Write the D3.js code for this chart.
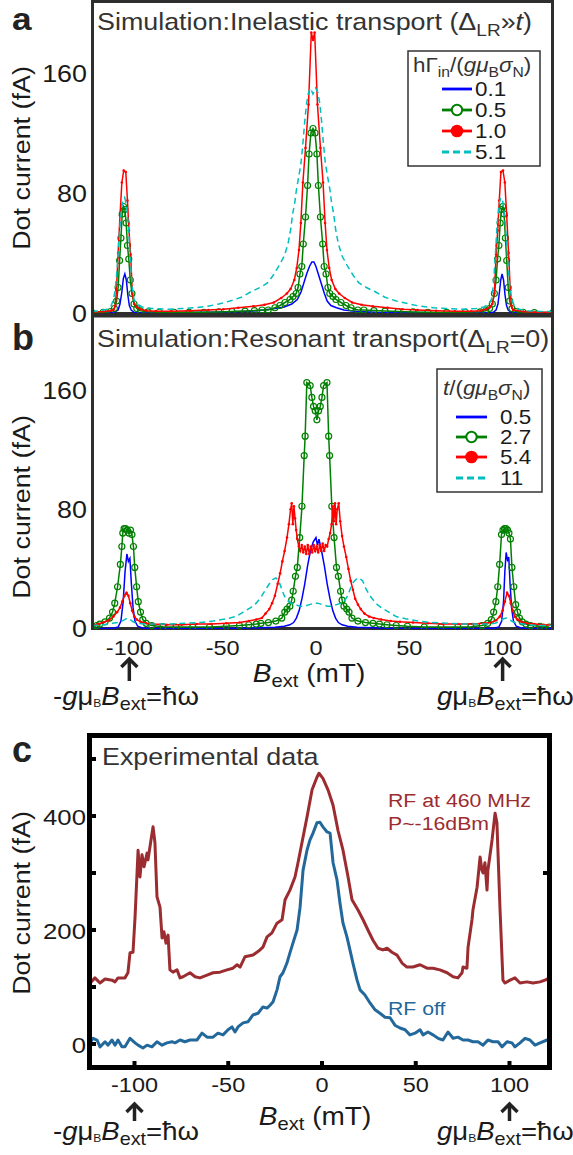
<!DOCTYPE html>
<html>
<head>
<meta charset="utf-8">
<script src="https://cdn.jsdelivr.net/npm/d3@7"></script>
<style>
  body { margin: 0; background: #fff; }
  svg { display: block; }
</style>
</head>
<body>
<svg id="fig" width="573" height="1155"></svg>
<script>
// ---- data: [B_ext (mT), current (fA)] ----
// panel a, inelastic transport
const aBlue = [[-120,0],[-112,0.2],[-108,0.5],[-106,2],[-105,6],[-104,14],[-103.2,23],[-102.4,26],[-101.6,22],[-100.8,12],[-100,5],[-99,2],[-97.5,0.5],[-94,0.2],[-85,0.2],[-70,0.3],[-55,0.5],[-45,0.8],[-35,1.2],[-28,2],[-22,3],[-17,4],[-13,6],[-10,9],[-8,14],[-6.5,20],[-5,26],[-3.5,31],[-2.2,34],[-1.1,34],[0,31],[1.5,25],[3,19],[4.5,13],[6,8],[8,5],[11,3.5],[15,2],[22,1],[32,0.5],[45,0.3],[60,0.2],[80,0.2],[92,0.3],[95,0.5],[96.5,2],[97.5,6],[98.3,14],[99,22],[99.7,26],[100.5,22],[101.3,12],[102.1,5],[103,2],[104.5,0.5],[108,0.2],[127,0]];
const aGreen = [[-120,0.3],[-114,0.5],[-110,1],[-108,3],[-106.8,8],[-106,17],[-105.2,35],[-104.5,50],[-103.8,66],[-103.1,71],[-102.4,69],[-101.7,60],[-101,45],[-100.3,36],[-99.5,22],[-98.6,13],[-97.5,6],[-96,3],[-94,1.5],[-90,0.8],[-84,0.5],[-76,0.5],[-68,0.5],[-60,0.5],[-52,0.7],[-45,1],[-38,1.3],[-33,1.6],[-28.9,2],[-25.6,2],[-22,3.5],[-19.3,5],[-16.6,7],[-13.9,9],[-12.3,11],[-10.6,13],[-9.6,17],[-8.6,26],[-7.6,31],[-6.8,46],[-5.6,64],[-4.5,85],[-3.7,106],[-2.7,120],[-1.6,123],[-0.5,120],[0.5,106],[1.3,85],[2.4,64],[3.6,46],[4.4,31],[5.4,26],[6.4,17],[7.4,13],[9.1,11],[10.7,9],[13.4,7],[16.1,5],[18.8,3.5],[22.4,2],[25.7,2],[31,1.6],[37,1.3],[44,1],[52,0.7],[60,0.5],[70,0.4],[80,0.5],[88,0.8],[91,1.5],[93,3],[94.5,6],[95.6,13],[96.5,22],[97.3,36],[98,45],[98.7,60],[99.4,69],[100.1,71],[100.8,66],[101.5,50],[102.2,35],[103,17],[103.8,8],[105,3],[107,1],[111,0.5],[117,0.3],[127,0.3]];
const aRed = [[-120,0.5],[-114,1],[-110,1.5],[-108.5,2],[-107.5,5],[-106.9,15],[-106,40],[-105,65],[-104,87],[-103,95],[-101.9,94],[-101,75],[-100.2,55],[-99.3,39],[-98.4,13],[-97.3,6],[-96,4],[-94,2.5],[-91,1.5],[-86,1.2],[-77.6,1.2],[-67.6,1.5],[-57.6,2],[-49.6,2.5],[-41.6,3.5],[-33.6,4.5],[-27.6,5.5],[-22.6,7],[-18.6,10],[-15.6,13],[-13.6,16],[-11.6,22],[-10.3,30],[-9.1,42],[-8.1,60],[-7,87],[-5.6,110],[-4,139],[-2.5,187],[-1.6,182],[-0.7,187],[0.8,139],[2.4,110],[3.8,87],[4.9,60],[5.9,42],[7.1,30],[8.4,22],[10.4,16],[12.4,13],[15.4,10],[19.4,7],[24.4,5.5],[30.4,4.5],[38.4,3.5],[46.4,2.5],[54.4,2],[64.4,1.5],[74.4,1.2],[83.2,1.2],[88.2,1.5],[91.2,2.5],[93.2,4],[94.5,6],[95.6,13],[96.5,39],[97.4,55],[98.2,75],[99.1,94],[100.2,95],[101.2,87],[102.2,65],[103.2,40],[104.1,15],[104.7,5],[105.7,2],[111.2,1],[117.2,0.5],[127,0.5]];
const aCyan = [[-120,1],[-116,1.5],[-112,2.5],[-110,4],[-108.5,9],[-107.5,16],[-106.5,30],[-105.5,50],[-104.5,66],[-103.5,75],[-102.5,77],[-101.5,72],[-100.5,58],[-99.5,36],[-98.5,18],[-97.5,9],[-96,6],[-93,4],[-88,3],[-80,2.5],[-72,3],[-65,3.5],[-58,4.5],[-52,6],[-46,8],[-40,10.5],[-35,14],[-30,17],[-26,20],[-23,25],[-20,31],[-17,38],[-15,46],[-13.5,56],[-12.5,66],[-11.3,74],[-10.5,82],[-9.5,89],[-8,100],[-7,113],[-6,128],[-5,140],[-4,147],[-3,150],[-1.6,146],[-0.2,150],[1,147],[2,140],[3,128],[4,113],[5,100],[6.5,89],[7.5,82],[8.3,74],[9.5,66],[10.5,56],[12,46],[14,38],[17,31],[20,25],[23,20],[27,17],[32,14],[37,10.5],[43,8],[50,6],[56,4.5],[63,3.5],[70,3],[78,2.5],[86,3],[90,4],[92.5,6],[94,9],[95,18],[96,36],[97,58],[98,72],[99,77],[100,75],[101,66],[102,50],[103,30],[104,16],[105,9],[106.5,4],[109,2.5],[113,1.5],[120,1],[127,1]];

// panel b, resonant transport
const bBlue = [[-120,0],[-112,0],[-108,0.3],[-106,1],[-104.5,5],[-103.3,18],[-102.3,38],[-101.3,50],[-100.5,45],[-99.7,47],[-98.9,30],[-98,14],[-97,5],[-95.5,1.5],[-93,0.3],[-88,0],[-60,0],[-40,0.2],[-30,0.5],[-22,0.8],[-17,1.5],[-14,2.5],[-12,4],[-10.5,7],[-9,12],[-7.5,20],[-6,30],[-4.5,42],[-3,52],[-1.5,58],[0,61],[0.8,56],[1.6,60],[3,52],[4.5,42],[6,30],[7.5,20],[9,12],[10.5,7],[12,4],[14,2.5],[17,1.5],[22,0.8],[30,0.5],[40,0.2],[60,0],[92,0],[96,0.3],[98,1],[99.5,5],[100.5,18],[101.2,38],[101.9,51],[102.6,46],[103.3,48],[104,30],[104.8,14],[105.8,5],[107.3,1.5],[110,0.3],[115,0],[127,0]];
const bGreen = [[-120,1],[-117.4,2],[-115.8,3],[-113,4.5],[-110.6,7],[-109,11],[-107.8,17],[-106.3,28],[-104.8,43],[-104,55],[-103.5,64],[-102.8,67],[-102,67],[-101.2,66],[-100.2,64],[-99.4,66],[-98.6,63],[-97.8,55],[-97.1,41],[-96.1,28],[-95.2,18],[-94,11],[-92.8,6],[-91,3.5],[-88,2],[-82,1.2],[-75,1],[-66,1],[-57,1],[-48,1.5],[-41,2],[-36,2.5],[-32,3],[-29.5,3.5],[-25.5,4],[-21.5,5],[-18.3,7],[-16.7,11],[-15.5,13],[-14,15],[-13,19],[-12.2,25],[-11,35],[-10,41],[-8.7,61],[-7.5,82],[-6.3,116],[-5.8,129],[-4.9,165],[-3.1,163],[-2.2,155],[-1.3,149],[-0.4,146],[0.5,140],[1.4,146],[2.3,149],[3.2,155],[4.1,163],[5.9,165],[6.8,129],[7.3,116],[8.5,82],[9.7,61],[11,41],[12,35],[13.2,25],[14,19],[15,15],[16.5,13],[17.7,11],[19.3,7],[22.5,5],[26.5,4],[30.5,3.5],[34,3],[38,2.5],[43,2],[49,1.5],[58,1],[67,1],[76,1],[83,1.2],[89,2],[92,3.5],[94,6],[95.2,11],[96.4,18],[97.4,28],[98.4,43],[99.4,63],[100.2,66],[101,67],[101.8,67],[102.6,66],[103.4,64],[104.2,60],[105,41],[106,28],[107,16],[108,11],[109,7],[110.5,4.5],[112.5,3],[115,2],[120,1.5],[125,1]];
const bRed = [[-120,2],[-117,3],[-114,4],[-111,5.5],[-108.5,8],[-106.5,11],[-105,14],[-103.8,18],[-102.6,22],[-101.5,24],[-100.5,22],[-99.5,17],[-98.5,12],[-97.3,8],[-96,6],[-94,4.5],[-91,3.5],[-87,3],[-80,2.5],[-72,2.5],[-64,3],[-56,3],[-48,3.5],[-41,4],[-36,5],[-32,6],[-29,7],[-27,10],[-25,13],[-23.5,17],[-22,22],[-20.5,30],[-19.2,37],[-18,45],[-16.8,52],[-15.5,61],[-14.5,70],[-13.6,80],[-13,84],[-12.4,70],[-11.8,82],[-11.2,74],[-10.6,66],[-10,60],[-9.2,55],[-8.4,52],[-7.6,56],[-6.8,51],[-6,55],[-5.2,50],[-4.4,56],[-3.6,50],[-2.8,55],[-2,51],[-1.2,56],[-0.4,52],[0.4,55],[1.2,51],[2,56],[2.8,52],[3.6,57],[4.4,52],[5.2,56],[6,55],[6.8,60],[7.6,64],[8.4,70],[9,82],[9.6,72],[10.2,84],[10.8,70],[11.4,80],[12.2,84],[13,72],[14,62],[15,55],[16.2,48],[17.4,40],[18.6,32],[19.8,26],[21,20],[22.5,16],[24,13],[26,10],[28.5,8],[31,7],[35,6],[40,5],[45,4.5],[52,4],[60,3.5],[68,3],[76,3],[84,3],[90,3.5],[94,4],[96.5,5.5],[98.5,8],[100,12],[101.2,18],[102.4,24],[103.4,22],[104.4,17],[105.4,12],[106.5,8],[108,6],[110,4.5],[113,3.5],[117,3],[122,2.5],[127,2]];
const bCyan = [[-120,2],[-114,2.5],[-109,3.5],[-106,4],[-104,5],[-102.5,6],[-101,7],[-99.5,6],[-98,4.5],[-96,3.5],[-92,3],[-85,3],[-78,3],[-70,3.5],[-62,4],[-55,5],[-48,6.5],[-43,8],[-39,11],[-35,14],[-32,17],[-29.5,21],[-27,26],[-25,30],[-23,33],[-21.5,34],[-20,32],[-18.5,27],[-17,22],[-15.5,19],[-13.5,17],[-11,16],[-8.5,15],[-6,15],[-3.5,16],[-1,17],[1,17],[3.5,16],[6,15],[8.5,15],[11,16],[13.5,17],[15.5,19],[17,22],[18.5,27],[20,31],[21.5,33],[23,34],[25,32],[27,26],[29.5,21],[32,17],[35,14],[39,11],[43,8],[48,6.5],[55,5],[62,4],[70,3.5],[78,3],[85,3],[92,3],[96,3.5],[98.5,5],[100.5,6.5],[102,7],[103.5,6],[105.5,4.5],[108,3.5],[113,2.5],[120,2],[127,2]];

// panel c, experimental data
const cRfOn = [[-123.7,107],[-121.1,116],[-118.4,107],[-115.7,114],[-112,112],[-110.4,109],[-108.8,116],[-105.1,116],[-103.5,125],[-102.4,160],[-100.8,161],[-99.7,223],[-98.1,340],[-97.1,293],[-96,332],[-94.9,311],[-93.3,335],[-92.8,323],[-91.2,358],[-90.1,381],[-89.1,353],[-88,258],[-86.4,240],[-85.3,186],[-84.3,197],[-83.2,177],[-82.1,191],[-81.1,130],[-79.5,126],[-77.3,130],[-75.7,116],[-74.1,118],[-70.4,125],[-67.7,118],[-65.1,116],[-61.3,121],[-58.1,125],[-54.4,126],[-50.7,130],[-47.5,133],[-45.3,139],[-43.7,135],[-41.1,153],[-36.8,156],[-33.1,165],[-31.5,170],[-29.3,188],[-26.7,195],[-24,212],[-21.3,218],[-19.7,253],[-17.1,270],[-14.4,293],[-12.8,318],[-10.7,353],[-8,398],[-5.3,446],[-2.7,468],[-1.6,475],[0.5,466],[3.2,446],[5.9,419],[8.5,375],[11.2,340],[13.9,293],[16,253],[19.2,235],[21.9,218],[24.5,200],[27.2,182],[29.9,168],[32.5,165],[34.7,168],[37.3,161],[40,156],[42.7,142],[45.3,135],[48.5,135],[52.3,139],[56,133],[59.2,133],[62.9,130],[66.7,125],[69.9,118],[72.5,116],[74.7,125],[75.2,135],[77.3,133],[77.9,170],[80,218],[80.5,235],[82.7,275],[84.3,328],[85.3,305],[85.9,300],[86.9,318],[88,270],[88.5,305],[90.7,358],[92.3,405],[93.3,388],[94.9,240],[96.5,112],[97.6,107],[100.3,112],[102.9,116],[105.6,107],[109.3,109],[112.5,107],[116.3,109],[118.9,112],[121.6,116]];
const cRfOff = [[-123.7,2],[-122.1,10],[-120,7],[-118.4,-5],[-115.7,4],[-114.1,-2],[-112,7],[-110.4,-2],[-108.8,7],[-106.7,-5],[-105.1,-5],[-102.4,10],[-99.7,2],[-98.1,-2],[-95.5,-7],[-93.3,-2],[-90.7,-5],[-88,4],[-85.3,-2],[-82.7,2],[-80,4],[-78.4,2],[-75.7,7],[-73.1,4],[-70.4,7],[-66.7,7],[-64,19],[-61.3,12],[-58.1,12],[-55.5,19],[-52.8,16],[-50.1,25],[-48,30],[-46.4,21],[-44.8,30],[-42.1,37],[-39.5,39],[-36.8,51],[-34.1,54],[-31.5,65],[-29.3,63],[-27.7,68],[-26.1,74],[-24,95],[-22.4,118],[-20.8,125],[-18.7,142],[-17.1,160],[-15.5,177],[-13.3,200],[-11.7,240],[-10.1,305],[-8,340],[-6.4,358],[-4.8,370],[-2.7,388],[-1.1,389],[0.5,381],[2.7,372],[4.3,370],[5.9,318],[8,288],[9.6,247],[11.2,212],[13.3,188],[14.9,165],[16.5,142],[18.7,112],[20.3,95],[22.9,86],[25.6,72],[28.3,60],[30.9,54],[33.6,47],[36.3,46],[38.9,33],[41.6,28],[44.3,25],[46.9,16],[49.6,19],[52.3,25],[53.9,16],[56.5,21],[59.2,16],[61.9,10],[64.5,7],[67.2,21],[69.9,10],[72.5,12],[75.2,7],[77.9,7],[80.5,4],[83.2,4],[85.9,-2],[88.5,7],[91.2,4],[93.9,4],[96,-5],[98.7,4],[101.3,2],[102.9,-5],[105.6,2],[108.3,10],[110.9,7],[113.6,-2],[116.3,2],[120,7],[121.6,4]];

const xTicks = [-100, -50, 0, 50, 100];
const simYTicks = [0, 80, 160];
const expYTicks = [0, 200, 400];
const expYTickMarks = [0, 100, 200, 300, 400, 500];
const legendA = ["0.1", "0.5", "1.0", "5.1"];
const legendB = ["0.5", "2.7", "5.4", "11"];

// ---- setup ----
const FONT = "Liberation Sans, Arial, sans-serif";
const SX = 1.12; // the figure's type is a bit wide
const svg = d3.select("#fig");
svg.append("rect").attr("width", 573).attr("height", 1155).attr("fill", "white");

const xAB = d3.scaleLinear().domain([-120, 127]).range([92, 553]);
const yA = d3.scaleLinear().domain([0, 160]).range([313, 73]);
const yB = d3.scaleLinear().domain([0, 160]).range([628.5, 390]);
const xC = d3.scaleLinear().domain([-100, 100]).range([134.5, 509.5]);
const yC = d3.scaleLinear().domain([0, 400]).range([1044, 816]);

const styles = [
    { color: "#0000ff" },
    { color: "#008000", marker: "ring" },
    { color: "#ff0000", marker: "dot" },
    { color: "#00bfbf", dash: "6,4" }
];

// text with optional sub/italic parts
function rich(parent, x, y, size, parts, o = {}) {
    const t = parent.append("text")
        .attr("transform", `translate(${x},${y})${o.rot ? " rotate(-90)" : ""} scale(${o.sx || SX},1)`)
        .attr("font-family", FONT)
        .attr("font-size", size)
        .attr("font-weight", o.bold ? "bold" : null)
        .attr("fill", o.fill || "#1a1a1a")
        .attr("text-anchor", o.anchor || "start");
    parts.forEach(p => {
        if (typeof p === "string") { t.append("tspan").text(p); return; }
        const s = t.append("tspan").text(p.t);
        if (p.i) s.attr("font-style", "italic");
        if (p.s) s.attr("font-size", p.s);
        if (p.dy) s.attr("dy", p.dy);
    });
    return t;
}

function arrow(g, x, yTip, yEnd) {
    g.append("line").attr("x1", x).attr("x2", x).attr("y1", yTip + 2).attr("y2", yEnd)
        .attr("stroke", "#222").attr("stroke-width", 3.5);
    g.append("path").attr("d", `M${x - 8},${yTip + 9}L${x},${yTip + 1}L${x + 8},${yTip + 9}`)
        .attr("fill", "none").attr("stroke", "#222").attr("stroke-width", 3.5);
}

function resonance(g, x, y, xs, withMinus) {
    const parts = [];
    if (withMinus) parts.push("-");
    parts.push({ t: "g", i: true }, "μ", { t: "B", s: 11, dy: 2 }, { t: "B", i: true, s: 25, dy: -2 }, { t: "ext", s: 18, dy: 5 }, { t: "=ħω", s: 25, dy: -5 });
    rich(g, x, y, 25, parts, { sx: xs, fill: "#1a1a1a" });
}

function drawCurves(g, x, y, series, clipId) {
    const line = d3.line().x(d => x(d[0])).y(d => y(d[1]));
    const cg = g.append("g").attr("clip-path", `url(#${clipId})`);
    series.forEach((data, i) => {
        const st = styles[i];
        cg.append("path").datum(data)
            .attr("d", line)
            .attr("fill", "none")
            .attr("stroke", st.color)
            .attr("stroke-width", 1.5)
            .attr("stroke-dasharray", st.dash || null);
        if (st.marker === "ring") {
            cg.selectAll(null).data(data).join("circle")
                .attr("cx", d => x(d[0])).attr("cy", d => y(d[1])).attr("r", 3)
                .attr("fill", "none").attr("stroke", st.color).attr("stroke-width", 1.2);
        } else if (st.marker === "dot") {
            cg.selectAll(null).data(data).join("circle")
                .attr("cx", d => x(d[0])).attr("cy", d => y(d[1])).attr("r", 1.3)
                .attr("fill", st.color);
        }
    });
}

function legend(g, bx, by, bw, bh, titleParts, titleX, titleY, lx1, lx2, tx, rows, labels) {
    g.append("rect").attr("x", bx).attr("y", by).attr("width", bw).attr("height", bh)
        .attr("fill", "white").attr("stroke", "#333").attr("stroke-width", 1.5);
    rich(g, titleX, titleY, 20, titleParts, { fill: "#333" });
    labels.forEach((lab, i) => {
        const st = styles[i];
        const yy = rows[i];
        g.append("line").attr("x1", lx1).attr("x2", lx2).attr("y1", yy).attr("y2", yy)
            .attr("stroke", st.color).attr("stroke-width", 2.8)
            .attr("stroke-dasharray", st.dash ? "7,4" : null);
        const mx = (lx1 + lx2) / 2;
        if (st.marker === "ring") {
            g.append("circle").attr("cx", mx).attr("cy", yy).attr("r", 5.2)
                .attr("fill", "white").attr("stroke", st.color).attr("stroke-width", 2);
        } else if (st.marker === "dot") {
            g.append("circle").attr("cx", mx).attr("cy", yy).attr("r", 6.3).attr("fill", st.color);
        }
        rich(g, tx, yy + 7, 20, [lab]);
    });
}

const defs = svg.append("defs");
defs.append("clipPath").attr("id", "clipA").append("rect").attr("x", 94).attr("y", 3).attr("width", 457).attr("height", 310);
defs.append("clipPath").attr("id", "clipB").append("rect").attr("x", 94).attr("y", 318).attr("width", 457).attr("height", 311);
defs.append("clipPath").attr("id", "clipC").append("rect").attr("x", 92).attr("y", 738).attr("width", 455).attr("height", 327);

// ---- panel a ----
const ga = svg.append("g");
ga.append("rect").attr("x", 92.5).attr("y", 1.5).attr("width", 460).attr("height", 312)
    .attr("fill", "none").attr("stroke", "#2e2e2e").attr("stroke-width", 3);
drawCurves(ga, xAB, yA, [aBlue, aGreen, aRed, aCyan], "clipA");
rich(ga, 97, 30, 24, ["Simulation:Inelastic transport (Δ", { t: "LR", s: 17, dy: 6 }, { t: "»", dy: -6 }, { t: "t", i: true }, ")"], { fill: "#333" });
legend(ga, 408, 51, 132, 115,
    ["h", "Γ", { t: "in", s: 14, dy: 5 }, { t: "/(", dy: -5 }, { t: "g", i: true }, { t: "μ", i: true }, { t: "B", s: 14, dy: 5 }, { t: "σ", i: true, dy: -5 }, { t: "N", s: 14, dy: 5 }, { t: ")", dy: -5 }],
    413, 72, 442, 472, 475, [89, 110, 131, 152], legendA);
simYTicks.forEach(v => rich(ga, 87, yA(v) + 8.5, 24, [String(v)], { anchor: "end" }));
rich(ga, 30, 158, 24, ["Dot current (fA)"], { rot: true, anchor: "middle" });
rich(ga, 12, 30, 32, ["a"], { bold: true, sx: 1.1, fill: "#222" });

// ---- panel b ----
const gb = svg.append("g");
gb.append("rect").attr("x", 92.5).attr("y", 316).attr("width", 460).attr("height", 312.5)
    .attr("fill", "none").attr("stroke", "#2e2e2e").attr("stroke-width", 3);
drawCurves(gb, xAB, yB, [bBlue, bGreen, bRed, bCyan], "clipB");
rich(gb, 97, 347, 24, ["Simulation:Resonant transport(Δ", { t: "LR", s: 17, dy: 6 }, { t: "=0)", dy: -6 }], { fill: "#333" });
legend(gb, 437, 369, 105, 123,
    [{ t: "t", i: true }, "/(", { t: "g", i: true }, { t: "μ", i: true }, { t: "B", s: 14, dy: 5 }, { t: "σ", i: true, dy: -5 }, { t: "N", s: 14, dy: 5 }, { t: ")", dy: -5 }],
    443, 395, 456, 487, 500, [417, 437, 457, 478], legendB);
simYTicks.forEach(v => rich(gb, 87, yB(v) + 8.5, 24, [String(v)], { anchor: "end" }));
xTicks.forEach(v => rich(gb, xAB(v), 655, 21, [String(v)], { anchor: "middle" }));
rich(gb, 30, 507, 24, ["Dot current (fA)"], { rot: true, anchor: "middle" });
rich(gb, 309, 682, 25, [{ t: "B", i: true }, { t: "ext", s: 18, dy: 5 }, { t: " (mT)", dy: -5 }], { anchor: "middle" });
arrow(gb, xAB(-100), 658, 681);
arrow(gb, xAB(100), 658, 681);
resonance(gb, 53, 705, 1.1, true);
resonance(gb, 437, 705, 1.1, false);
rich(gb, 12, 350, 36, ["b"], { bold: true, sx: 1, fill: "#222" });

// ---- panel c ----
const gc = svg.append("g");
const lineC = d3.line().x(d => xC(d[0])).y(d => yC(d[1]));
const cc = gc.append("g").attr("clip-path", "url(#clipC)");
cc.append("path").datum(cRfOn).attr("d", lineC).attr("fill", "none")
    .attr("stroke", "#9b2c30").attr("stroke-width", 3).attr("stroke-linejoin", "round");
cc.append("path").datum(cRfOff).attr("d", lineC).attr("fill", "none")
    .attr("stroke", "#23689b").attr("stroke-width", 3).attr("stroke-linejoin", "round");
gc.append("rect").attr("x", 89.5).attr("y", 735.5).attr("width", 460).attr("height", 332)
    .attr("fill", "none").attr("stroke", "black").attr("stroke-width", 5);
expYTickMarks.forEach(v => gc.append("line").attr("x1", 91).attr("x2", 96)
    .attr("y1", yC(v)).attr("y2", yC(v)).attr("stroke", "black").attr("stroke-width", 4));
[300].forEach(v => gc.append("line").attr("x1", 548).attr("x2", 543)
    .attr("y1", yC(v)).attr("y2", yC(v)).attr("stroke", "black").attr("stroke-width", 4));
xTicks.forEach(v => gc.append("line").attr("x1", xC(v)).attr("x2", xC(v))
    .attr("y1", 1066).attr("y2", 1061).attr("stroke", "black").attr("stroke-width", 4));
expYTicks.forEach(v => rich(gc, 86, yC(v) + 8.5, 23, [String(v)], { anchor: "end" }));
xTicks.forEach(v => rich(gc, xC(v), 1092, 21, [String(v)], { anchor: "middle" }));
rich(gc, 102, 765, 24, ["Experimental data"], { fill: "#333" });
rich(gc, 388, 807, 19, ["RF at 460 MHz"], { fill: "#9b2c30" });
rich(gc, 388, 830, 19, ["P~-16dBm"], { fill: "#9b2c30" });
rich(gc, 388, 1015, 19, ["RF off"], { fill: "#23689b" });
rich(gc, 30, 903, 24, ["Dot current (fA)"], { rot: true, anchor: "middle" });
rich(gc, 315, 1125, 25, [{ t: "B", i: true }, { t: "ext", s: 18, dy: 5 }, { t: " (mT)", dy: -5 }], { anchor: "middle" });
arrow(gc, xC(-100), 1103, 1121);
arrow(gc, xC(100), 1103, 1121);
resonance(gc, 53, 1140, 1.1, true);
resonance(gc, 437, 1140, 1.1, false);
rich(gc, 12, 762, 36, ["c"], { bold: true, sx: 1, fill: "#222" });
</script>
</body>
</html>
